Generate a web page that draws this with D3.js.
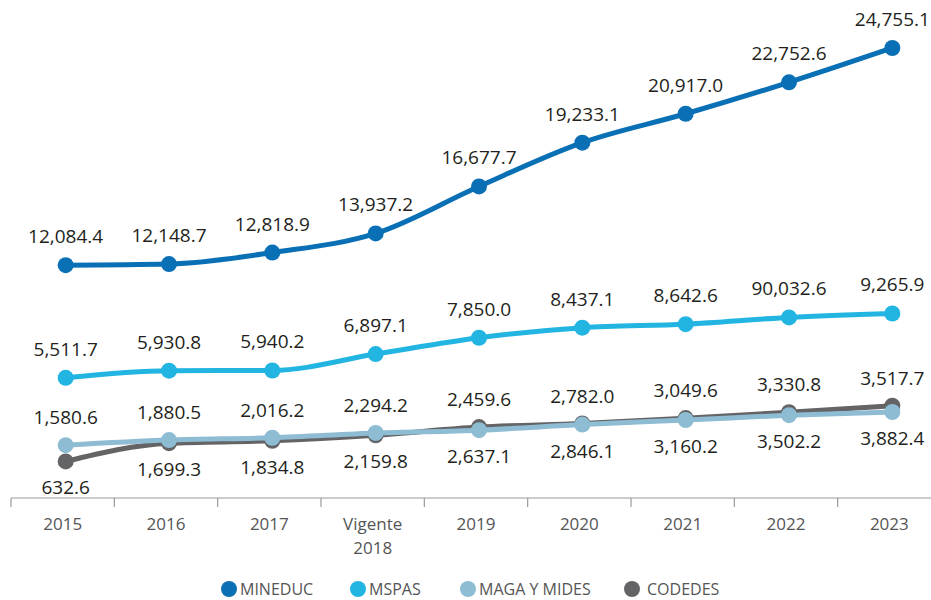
<!DOCTYPE html>
<html>
<head>
<meta charset="utf-8">
<script src="https://cdn.jsdelivr.net/npm/d3@7"></script>
<style>
  body { margin: 0; background: #fff; }
  svg text { font-family: "Open Sans", "Noto Sans", sans-serif; }
</style>
</head>
<body>
<div id="chart"></div>
<script>
// categories and series values (millones de quetzales)
var years = ["2015", "2016", "2017", "Vigente 2018", "2019", "2020", "2021", "2022", "2023"];
var mineduc = [12084.4, 12148.7, 12818.9, 13937.2, 16677.7, 19233.1, 20917.0, 22752.6, 24755.1];
var mspas = [5511.7, 5930.8, 5940.2, 6897.1, 7850.0, 8437.1, 8642.6, 9032.6, 9265.9];
var maga = [1580.6, 1880.5, 2016.2, 2294.2, 2459.6, 2782.0, 3049.6, 3330.8, 3517.7];
var codedes = [632.6, 1699.3, 1834.8, 2159.8, 2637.1, 2846.1, 3160.2, 3502.2, 3882.4];
// label printed in the source differs from value for MSPAS 2022
var labelOverride = { "MSPAS|7": "90,032.6" };

var W = 931, H = 600;

var svg = d3.select("#chart").append("svg")
    .attr("width", W)
    .attr("height", H);

var x = d3.scaleBand()
    .domain(years)
    .range([11, 941]);

var y = d3.scaleLinear()
    .domain([-1500, 27000])
    .range([498, 9.5]);

var px = function(i) { return x(years[i]) + x.bandwidth() / 2 + 3; };

// x axis
var axis = svg.append("g")
    .attr("transform", "translate(0,498)");
axis.append("line")
    .attr("x1", 11).attr("x2", W)
    .attr("stroke", "#999").attr("stroke-width", 1.2);
axis.selectAll(".sep")
    .data(years)
    .enter().append("line")
    .attr("x1", function(d) { return x(d); })
    .attr("x2", function(d) { return x(d); })
    .attr("y1", 0).attr("y2", 9)
    .attr("stroke", "#999").attr("stroke-width", 1.2);
axis.selectAll(".yr")
    .data(years)
    .enter().append("text")
    .attr("x", function(d) { return x(d) + x.bandwidth() / 2; })
    .attr("y", 32)
    .attr("text-anchor", "middle")
    .attr("fill", "#555")
    .style("font-size", "17px")
    .each(function(d) {
        var parts = d.split(" ");
        var t = d3.select(this);
        parts.forEach(function(p, k) {
            t.append("tspan")
                .attr("x", x(d) + x.bandwidth() / 2)
                .attr("dy", k == 0 ? 0 : 24)
                .text(p);
        });
    });

var series = [
    { name: "CODEDES", values: codedes, color: "#646466" },
    { name: "MAGA Y MIDES", values: maga, color: "#8dbcd3" },
    { name: "MSPAS", values: mspas, color: "#22b5e2" },
    { name: "MINEDUC", values: mineduc, color: "#0a70b5" }
];

var line = d3.line()
    .x(function(d, i) { return px(i); })
    .y(function(d) { return y(d); })
    .curve(d3.curveMonotoneX);

series.forEach(function(s) {
    var g = svg.append("g");
    g.append("path")
        .datum(s.values)
        .attr("d", line)
        .attr("fill", "none")
        .attr("stroke", s.color)
        .attr("stroke-width", 5);
    g.selectAll("circle")
        .data(s.values)
        .enter().append("circle")
        .attr("cx", function(d, i) { return px(i); })
        .attr("cy", function(d) { return y(d); })
        .attr("r", 8)
        .attr("fill", s.color);
});

// value labels
var fmt = d3.format(",.1f");
var labels = svg.append("g")
    .attr("text-anchor", "middle")
    .attr("fill", "#231f20")
    .style("font-size", "19px");

function addLabels(name, values, posFn) {
    values.forEach(function(v, i) {
        labels.append("text")
            .attr("x", px(i))
            .attr("y", posFn(v, i))
            .text(labelOverride[name + "|" + i] || fmt(v));
    });
}

addLabels("MINEDUC", mineduc, function(v) { return y(v) - 22; });
addLabels("MSPAS", mspas, function(v) { return y(v) - 22; });
addLabels("MAGA", maga, function(v, i) { return Math.min(y(v), y(codedes[i])) - 21; });
addLabels("CODEDES", codedes, function(v, i) { return Math.max(y(v), y(maga[i])) + 33; });

// legend
var legendItems = [
    { name: "MINEDUC", color: "#0a70b5", cx: 229 },
    { name: "MSPAS", color: "#22b5e2", cx: 358 },
    { name: "MAGA Y MIDES", color: "#8dbcd3", cx: 468 },
    { name: "CODEDES", color: "#646466", cx: 632 }
];
var legend = svg.append("g");
legendItems.forEach(function(d) {
    legend.append("circle")
        .attr("cx", d.cx).attr("cy", 589)
        .attr("r", 8)
        .attr("fill", d.color);
    legend.append("text")
        .attr("x", d.cx + (d.name == "CODEDES" ? 15 : 11))
        .attr("y", 594.5)
        .attr("fill", "#555")
        .style("font-size", "16px")
        .text(d.name);
});
</script>
</body>
</html>
